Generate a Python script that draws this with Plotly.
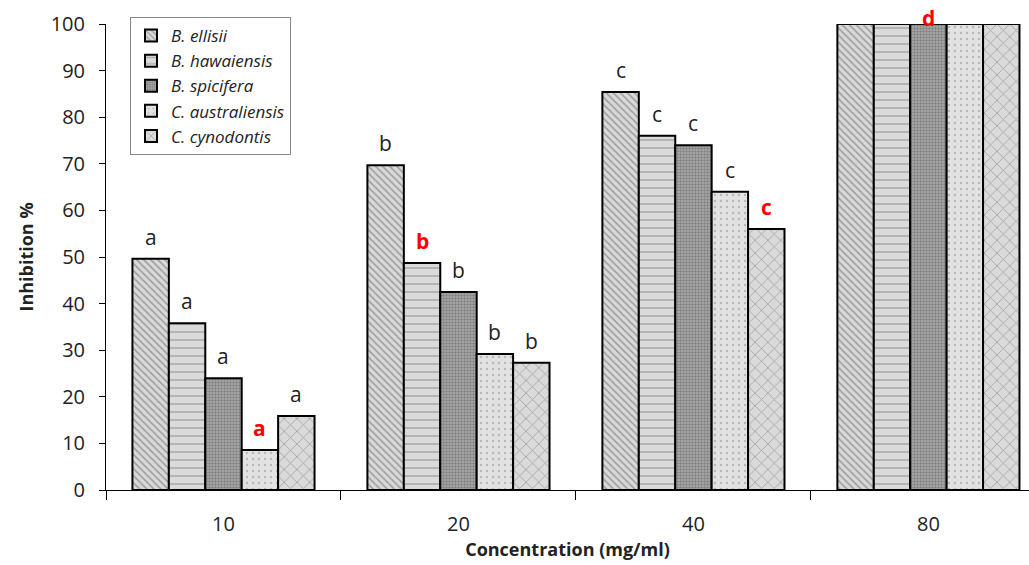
import plotly.graph_objects as go

concentrations = ["10", "20", "40", "80"]
species = ["B. ellisii", "B. hawaiensis", "B. spicifera", "C. australiensis", "C. cynodontis"]
b_ellisii = [49.6, 69.7, 85.4, 100]
b_hawaiensis = [35.8, 48.7, 76.0, 100]
b_spicifera = [24.0, 42.5, 74.0, 100]
c_australiensis = [8.6, 29.2, 64.0, 100]
c_cynodontis = [15.9, 27.3, 56.0, 100]
letters_ellisii = ["a", "b", "c", ""]
letters_hawaiensis = ["a", "b", "c", ""]
letters_spicifera = ["a", "b", "c", "d"]
letters_australiensis = ["a", "b", "c", ""]
letters_cynodontis = ["a", "b", "c", ""]
red_flags_ellisii = [0, 0, 0, 0]
red_flags_hawaiensis = [0, 1, 0, 0]
red_flags_spicifera = [0, 0, 0, 1]
red_flags_australiensis = [1, 0, 0, 0]
red_flags_cynodontis = [0, 0, 1, 0]

values = [b_ellisii, b_hawaiensis, b_spicifera, c_australiensis, c_cynodontis]
letters = [letters_ellisii, letters_hawaiensis, letters_spicifera, letters_australiensis, letters_cynodontis]
reds = [red_flags_ellisii, red_flags_hawaiensis, red_flags_spicifera, red_flags_australiensis, red_flags_cynodontis]

patterns = [
    dict(shape="\\", fgcolor="#5e5e5e", bgcolor="#d9d9d9", size=5, solidity=0.3),
    dict(shape="-", fgcolor="#7a7a7a", bgcolor="#dadada", size=8, solidity=0.2),
    dict(shape=".", fgcolor="#5a5a5a", bgcolor="#ababab", size=3, solidity=0.5),
    dict(shape=".", fgcolor="#8c8c8c", bgcolor="#e2e2e2", size=6, solidity=0.12),
    dict(shape="x", fgcolor="#6e6e6e", bgcolor="#dadada", size=9, solidity=0.18),
]

FONT = "Open Sans, Noto Sans, sans-serif"
W, H = 1029, 565
ML, MR, MT, MB = 106, 0, 24, 75
X_RANGE = [-0.5, 3.428]
BARGAP = 0.225

fig = go.Figure()
for name, vals, pat in zip(species, values, patterns):
    fig.add_trace(go.Bar(
        name=name,
        x=concentrations,
        y=vals,
        marker=dict(color=pat["bgcolor"], pattern=pat, line=dict(color="black", width=2)),
    ))

# significance letters placed above each bar (positions derived from the data + bar layout)
px_per_cat = (W - ML - MR) / (X_RANGE[1] - X_RANGE[0])
bar_px = px_per_cat * (1 - BARGAP) / len(species)
annotations = []
for i, (vals, txt, rf) in enumerate(zip(values, letters, reds)):
    for j, cat in enumerate(concentrations):
        if not txt[j]:
            continue
        top = vals[j] >= 100
        annotations.append(dict(
            x=j, y=vals[j], xref="x", yref="y",  # category index j of concentrations
            text=f"<b>{txt[j]}</b>" if rf[j] else txt[j],
            showarrow=False,
            xshift=(i - (len(species) - 1) / 2) * bar_px,
            yanchor="middle" if top else "bottom",
            yshift=6 if top else 6,
            font=dict(size=21, color="#ff0000" if rf[j] else "#222222", family=FONT),
        ))

fig.update_layout(
    width=W, height=H,
    margin=dict(l=ML, r=MR, t=MT, b=MB),
    paper_bgcolor="white", plot_bgcolor="white",
    barmode="group", bargap=BARGAP, bargroupgap=0,
    font=dict(family=FONT, color="#222222"),
    legend=dict(
        x=0.026, y=1.015, xanchor="left", yanchor="top",
        bgcolor="white", bordercolor="#888888", borderwidth=1,
        font=dict(size=17, style="italic", family=FONT, color="#222222"),
        itemwidth=30, tracegroupgap=0,
    ),
    annotations=annotations,
)
fig.update_xaxes(
    type="category", range=X_RANGE,
    showline=True, linecolor="black", linewidth=1,
    ticks="outside", tickson="boundaries", ticklen=9, tickcolor="black",
    tickfont=dict(size=20), ticklabelstandoff=16,
    showgrid=False, zeroline=False,
    title=dict(text="<b>Concentration (mg/ml)</b>", standoff=6, font=dict(size=18)),
)
fig.update_yaxes(
    range=[0, 100], dtick=10,
    showline=True, linecolor="black", linewidth=1,
    ticks="outside", ticklen=6, tickcolor="black",
    tickfont=dict(size=20), ticklabelstandoff=10,
    showgrid=False, zeroline=False,
    title=dict(text="<b>Inhibition %</b>", standoff=12, font=dict(size=18)),
)

fig.write_html("out.html", config={"displayModeBar": False},
               post_script="document.body.style.margin='0';")
